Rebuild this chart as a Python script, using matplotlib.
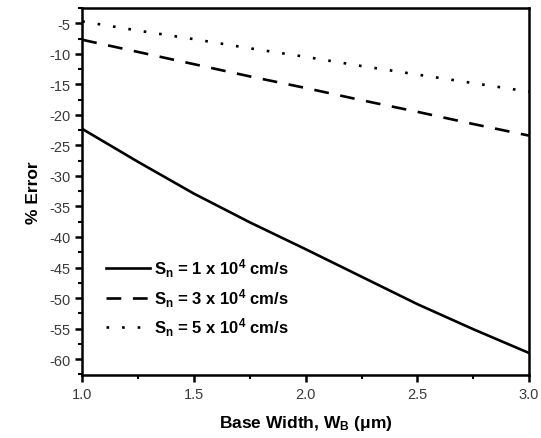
import numpy as np
import matplotlib
matplotlib.use('Agg')
import matplotlib.pyplot as plt
from matplotlib.ticker import MultipleLocator, FormatStrFormatter

plt.rcParams['font.family'] = ['Liberation Sans', 'DejaVu Sans']
plt.rcParams['mathtext.fontset'] = 'custom'
plt.rcParams['mathtext.rm'] = 'Liberation Sans:bold'
plt.rcParams['mathtext.default'] = 'rm'
plt.rcParams['axes.unicode_minus'] = False

# ---- data ----
base_width = [1.0, 1.25, 1.5, 1.75, 2.0, 2.25, 2.5, 2.75, 3.0]
err_sn1 = [-22.3, -27.7, -32.9, -37.6, -42.0, -46.5, -51.0, -55.1, -59.0]
err_sn3 = [-7.7, -9.7, -11.7, -13.7, -15.6, -17.6, -19.5, -21.5, -23.4]
err_sn5 = [-4.7, -6.2, -7.6, -9.1, -10.5, -12.0, -13.4, -14.8, -16.2]
labels = [r'S$_{n}$ = 1 x 10$^{4}$ cm/s',
          r'S$_{n}$ = 3 x 10$^{4}$ cm/s',
          r'S$_{n}$ = 5 x 10$^{4}$ cm/s']

fig = plt.figure(figsize=(5.41, 4.39), dpi=100)
ax = fig.add_axes([0.152, 0.1435, 0.826, 0.836])

ax.plot(base_width, err_sn1, color='black', lw=1.9, ls='-', label=labels[0])
ax.plot(base_width, err_sn3, color='black', lw=1.9, ls=(0, (5.6, 4.4)), label=labels[1])
ax.plot(base_width, err_sn5, color='black', lw=1.9, ls=(0, (1, 4.9)), label=labels[2])

ax.set_xlim(1.0, 3.0)
ax.set_ylim(-62.6, -2.5)
ax.xaxis.set_major_locator(MultipleLocator(0.5))
ax.xaxis.set_minor_locator(MultipleLocator(0.25))
ax.xaxis.set_major_formatter(FormatStrFormatter('%.1f'))
ax.set_yticks(np.arange(-60, -4, 5))
ax.yaxis.set_minor_locator(MultipleLocator(2.5))

for s in ax.spines.values():
    s.set_linewidth(1.8)
ax.tick_params(which='major', direction='out', length=5, width=1.8,
               labelsize=10.5, labelcolor='#3a3a3a', top=False, right=False)
ax.tick_params(which='minor', direction='out', length=3, width=1.5,
               top=False, right=False)

ax.set_xlabel(r'Base Width, W$_{B}$ ($\mathregular{\mu}$m)', fontsize=12.5,
              fontweight='bold', labelpad=9)
ax.set_ylabel('% Error', fontsize=12.5, fontweight='bold', labelpad=6)

leg = ax.legend(loc='lower left', bbox_to_anchor=(0.02, 0.06), frameon=False,
                handlelength=2.6, handletextpad=0.25, labelspacing=0.4,
                prop={'size': 12, 'weight': 'bold'})

fig.savefig('out.png', dpi=100)
